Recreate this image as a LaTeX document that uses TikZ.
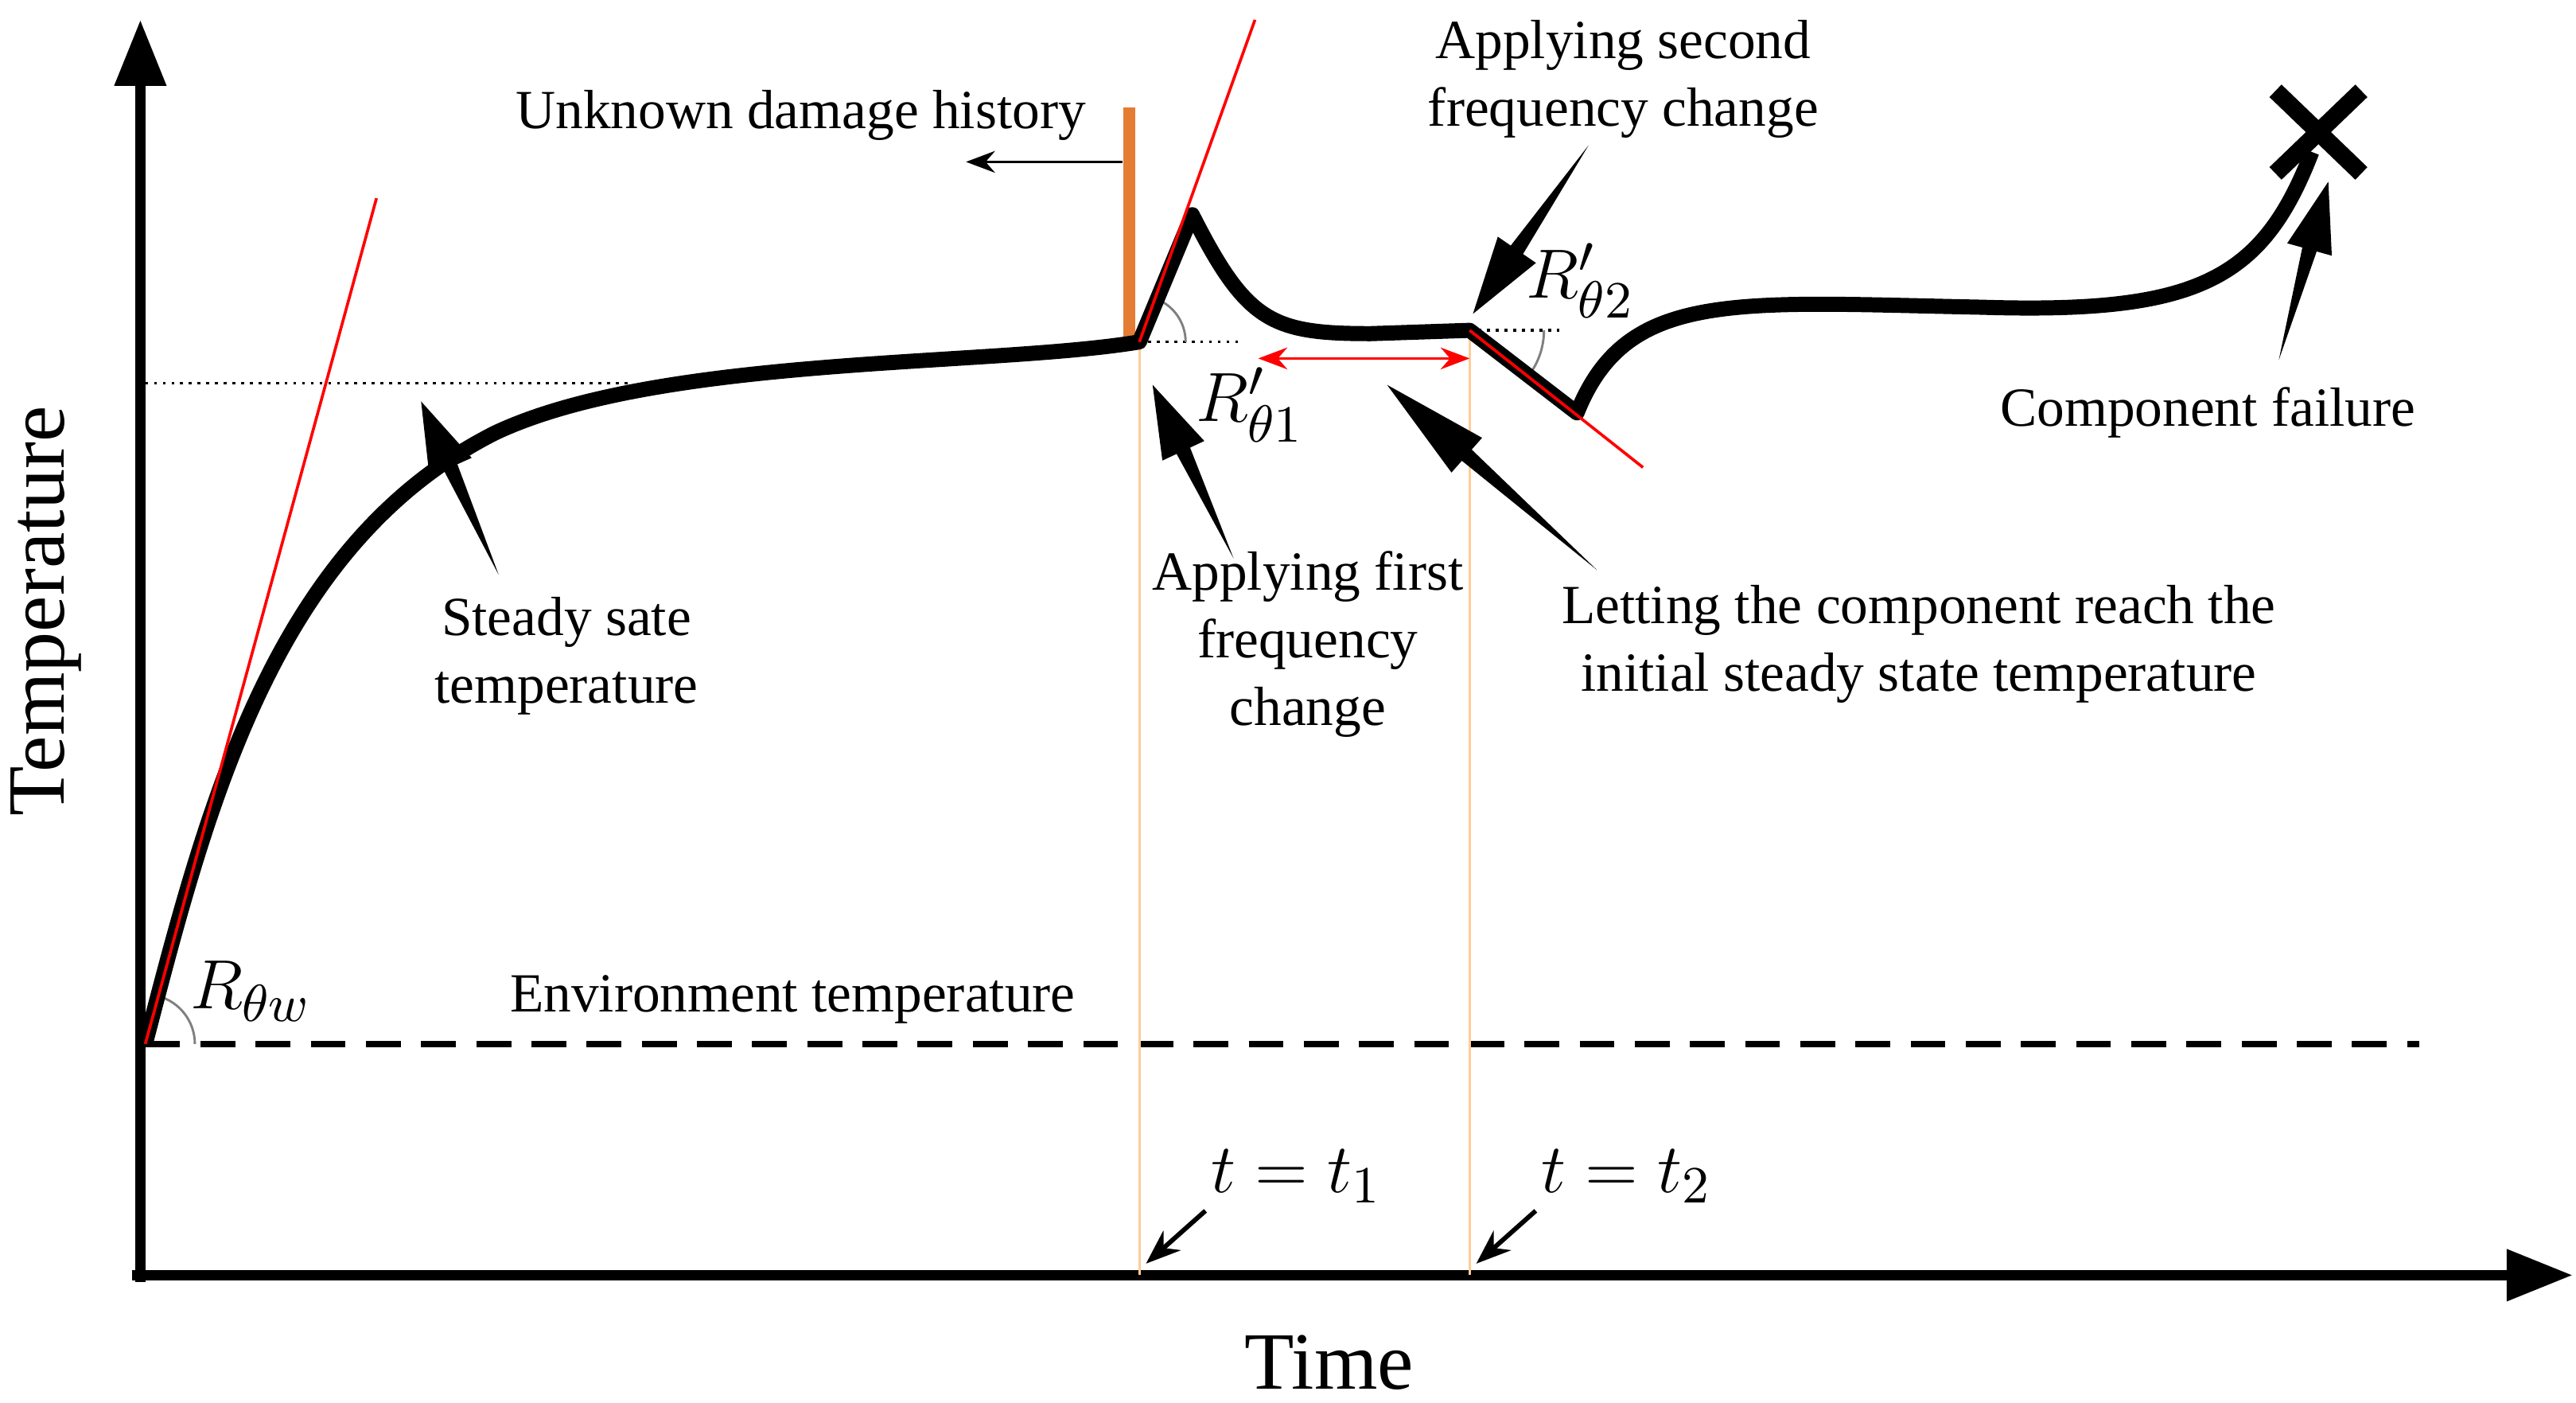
\documentclass[tikz,border=0pt]{standalone}
\usepackage{fontspec}
\setmainfont{Liberation Serif}
\usetikzlibrary{calc,arrows.meta}
\definecolor{bar}{RGB}{228,124,52}
\begin{document}
\newcommand\bigptr[2]{%
\fill ($(#1)$) -- ($($(#1)!0.38!(#2)$)!0.14cm!90:(#1)$) -- ($($(#1)!0.38!(#2)$)!0.045cm!90:(#1)$) -- (#2) -- ($($(#1)!0.38!(#2)$)!0.045cm!-90:(#1)$) -- ($($(#1)!0.38!(#2)$)!0.14cm!-90:(#1)$) -- cycle;}
\begin{tikzpicture}[x=0.01cm,y=-0.01cm,
  txt/.style={font=\fontsize{9.5}{11.7}\selectfont,align=center,inner sep=0pt},
  mth/.style={font=\fontsize{13}{15}\selectfont,inner sep=0pt},
  ax/.style={line width=1.8pt,-{Triangle[length=0.4cm,width=0.3cm]}},
  tan/.style={red,line width=0.5pt},
  guide/.style={orange!40,line width=0.4pt}]
\useasboundingbox (0,0) rectangle (1560,849);
% axes
\coordinate (ytop) at (85,12);
\coordinate (xend) at (1558,772);
\draw[ax] (85,776) -- (ytop);
\draw[ax] (80,772) -- (xend);
\node[txt,font=\fontsize{14}{16}\selectfont,rotate=90] (ylab) at (28,370) {Temperature};
\node[txt,font=\fontsize{14}{16}\selectfont] (xlab) at (805,825) {Time};
% environment
\draw[line width=1.1pt,dash pattern=on 6pt off 3.5pt] (88,632) -- (1465,632);
\node[txt] (env) at (480,605) {Environment temperature};
% dotted
\draw[densely dotted,line width=0.5pt] (88,232) -- (380,232);
\draw[densely dotted,line width=0.5pt] (690,207) -- (752,207);
\draw[densely dotted,line width=0.5pt] (890,200) -- (948,200);
% guides
\draw[guide] (690,207) -- (690,772);
\draw[guide] (890,200) -- (890,772);
% angle arcs
\draw[gray,line width=0.4pt] (118,632) arc[start angle=0,end angle=-75,radius=30];
\draw[gray,line width=0.4pt] (718,207) arc[start angle=0,end angle=-70,radius=28];
\draw[gray,line width=0.4pt] (935,200) arc[start angle=0,end angle=38,radius=45];
% orange bar
\draw[bar,line width=2pt] (684,65) -- (684,207);
\node[txt] (unk) at (485,70) {Unknown damage history};
\coordinate (ua) at (680,98); \coordinate (ub) at (585,98);
\draw[-{Stealth[length=5pt]},line width=0.4pt] (ua) -- (ub);
% curve
\draw[line width=2.6pt,line join=round] (88,632)
  .. controls (125,490) and (165,330) .. (300,262)
  .. controls (400,215) and (600,222) .. (690,207)
  -- (722,130)
  .. controls (755,195) and (770,202) .. (830,202)
  -- (890,200) -- (955,250)
  .. controls (985,175) and (1050,183) .. (1200,186)
  .. controls (1330,190) and (1370,170) .. (1400,92);
% tangents
\draw[tan] (88,632) -- (228,120);
\draw[tan] (690,207) -- (760,12);
\draw[tan] (890,200) -- (995,283);
% X
\draw[line width=3pt] (1378,55) -- (1430,105) (1430,55) -- (1378,105);
% red double arrow
\draw[red,{Stealth[length=5pt]}-{Stealth[length=5pt]},line width=0.5pt] (762,217) -- (890,217);
% math labels
\node[mth] (rw) at (152,600) {$R_{\theta w}$};
\node[mth] (r1) at (757,245) {$R'_{\theta 1}$};
\node[mth] (r2) at (957,170) {$R'_{\theta 2}$};
\node[mth] (t1) at (785,712) {$t=t_1$};
\node[mth] (t2) at (985,712) {$t=t_2$};
\draw[-{Stealth[length=6pt]},line width=0.8pt] (730,733) -- (694,765);
\draw[-{Stealth[length=6pt]},line width=0.8pt] (930,733) -- (894,765);
% texts
\node[txt] (ss) at (343,397) {Steady sate\\temperature};
\node[txt] (f1) at (792,390) {Applying first\\frequency\\change};
\node[txt] (f2) at (983,48) {Applying second\\frequency change};
\node[txt] (let) at (1162,390) {Letting the component reach the\\initial steady state temperature};
\node[txt] (cf) at (1337,250) {Component failure};
% big pointers
\bigptr{255,243}{302,348}
\bigptr{698,233}{747,338}
\bigptr{892,190}{962,88}
\bigptr{840,233}{967,345}
\bigptr{1410,110}{1380,218}
\end{tikzpicture}
\end{document}
